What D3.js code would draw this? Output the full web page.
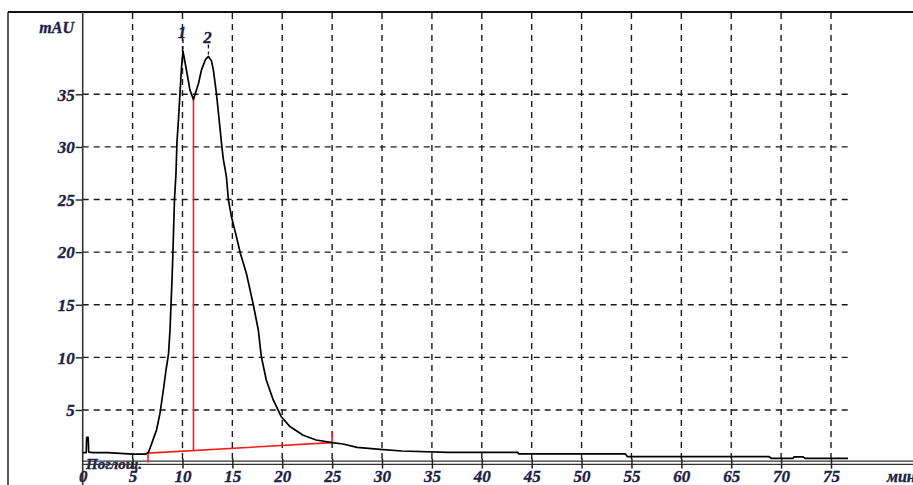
<!DOCTYPE html>
<html>
<head>
<meta charset="utf-8">
<script src="https://cdn.jsdelivr.net/npm/d3@7"></script>
<style>
  html, body { margin: 0; padding: 0; background: #fff; }
  svg { display: block; }
  .lbl { font-family: "Liberation Serif", "DejaVu Serif", serif; font-style: italic; font-weight: bold;
         fill: #1b2148; stroke: #1b2148; stroke-width: 0.35px; }
</style>
</head>
<body>
<svg id="chart" width="913" height="485"></svg>
<script>
// Chromatogram trace: retention time (min) and absorbance (mAU)
const timeMin = [0.0, 0.35, 0.4, 0.55, 0.6, 1.0, 2.5, 5.0, 6.3, 6.6, 6.8, 7.1, 7.4, 7.75, 8.1, 8.35, 8.6,
  8.75, 8.85, 8.95, 9.05, 9.2, 9.35, 9.45, 9.6, 9.75, 9.9, 10.05, 10.4, 10.75, 11.1, 11.6, 11.9, 12.3,
  12.6, 12.9, 13.1, 13.4, 13.75, 13.95, 14.1, 14.4, 14.6, 14.9, 15.4, 15.8, 16.4, 16.8, 17.1, 17.6, 17.9,
  18.4, 19.1, 19.9, 20.8, 22.1, 23.4, 25.0, 26.1, 27.5, 29.8, 32.0, 36.6, 43.6, 43.7, 54.4, 54.6, 68.8,
  69.0, 71.2, 71.3, 72.2, 72.4, 76.7];
const absorbance = [0.95, 0.95, 2.4, 2.4, 1.0, 0.95, 0.95, 0.8, 0.8, 1.0, 1.5, 2.3, 3.1, 4.7, 7.0, 8.8, 10.3,
  12.6, 15.0, 17.3, 20.2, 25.0, 27.5, 30.5, 32.6, 35.1, 37.5, 39.1, 37.3, 35.4, 34.5, 36.0, 37.3, 38.3,
  38.6, 38.2, 37.3, 35.1, 31.9, 30.0, 28.8, 27.2, 25.0, 23.4, 21.5, 19.9, 18.0, 16.3, 15.0, 12.6, 10.1,
  7.85, 5.95, 4.36, 3.4, 2.6, 2.15, 1.9, 1.77, 1.45, 1.26, 1.1, 0.98, 0.98, 0.82, 0.82, 0.56, 0.56,
  0.41, 0.41, 0.55, 0.55, 0.41, 0.41];

// Integration baseline and peak drop line
const baselineTime = [6.55, 25.0];
const baselineMAU = [0.9, 1.9];
const baselineEndTick = 2.85;
const dropTime = 11.1;
const dropMAU = 34.5;

// Peaks and their numbers
const peakTime = [10.05, 12.6];
const peakMAU = [39.1, 38.6];
const peakNames = ["1", "2"];

// Axis ticks
const xTicks = [0, 5, 10, 15, 20, 25, 30, 35, 40, 45, 50, 55, 60, 65, 70, 75];
const yTicks = [5, 10, 15, 20, 25, 30, 35];
const tMax = 76.7;

const svg = d3.select("#chart");
const x = d3.scaleLinear().domain([0, 75]).range([82.7, 831]);
const y = d3.scaleLinear().domain([0, 35]).range([462.6, 94.3]);
const topY = 12;

// outer frame
svg.append("line").attr("x1", 8).attr("x2", 913).attr("y1", topY).attr("y2", topY)
  .attr("stroke", "#111").attr("stroke-width", 2);
svg.append("line").attr("x1", 8).attr("x2", 8).attr("y1", topY).attr("y2", 485)
  .attr("stroke", "#222").attr("stroke-width", 1.5);

// dashed grid
const grid = svg.append("g").attr("stroke", "#1a1a1a").attr("stroke-width", 1.4)
  .attr("stroke-dasharray", "6,5");
grid.selectAll(".gv").data(xTicks.filter(d => d > 0)).join("line")
  .attr("x1", d => x(d)).attr("x2", d => x(d))
  .attr("y1", topY + 1).attr("y2", y(0));
grid.selectAll(".gh").data(yTicks).join("line")
  .attr("x1", x(0)).attr("x2", x(tMax))
  .attr("y1", d => y(d)).attr("y2", d => y(d));

// axis label under the curve start
svg.append("text").attr("class", "lbl").attr("x", 86).attr("y", 469)
  .attr("font-size", 15).text("Поглощ.");

// y axis
const yAxis = svg.append("g").attr("transform", `translate(${x(0)},0)`)
  .call(d3.axisLeft(y).tickValues(yTicks).tickSize(7).tickPadding(1).tickFormat(d3.format("d")));
yAxis.select(".domain").remove();
yAxis.selectAll(".tick line").attr("stroke", "#222").attr("stroke-width", 1.4);
yAxis.selectAll(".tick text").attr("class", "lbl").attr("font-size", 17).attr("dy", "0.34em");
svg.append("line").attr("x1", x(0)).attr("x2", x(0)).attr("y1", topY).attr("y2", 485)
  .attr("stroke", "#333").attr("stroke-width", 1.6);

// x axis (double rule)
svg.append("line").attr("x1", x(0)).attr("x2", 913).attr("y1", y(0) - 1.5).attr("y2", y(0) - 1.5)
  .attr("stroke", "#333").attr("stroke-width", 1.3);
svg.append("line").attr("x1", x(0)).attr("x2", 913).attr("y1", y(0) + 1.8).attr("y2", y(0) + 1.8)
  .attr("stroke", "#333").attr("stroke-width", 1.3);
const xAxis = svg.append("g").attr("transform", `translate(0,${y(0) - 4})`)
  .call(d3.axisBottom(x).tickValues(xTicks).tickSize(10).tickPadding(3).tickFormat(d3.format("d")));
xAxis.select(".domain").remove();
xAxis.selectAll(".tick line").attr("stroke", "#222").attr("stroke-width", 1.5);
xAxis.selectAll(".tick text").attr("class", "lbl").attr("font-size", 17).attr("dy", "0.62em");
xAxis.selectAll(".tick").filter(d => d === 0).select("line").remove();

svg.append("text").attr("class", "lbl").attr("x", 74).attr("y", 33)
  .attr("text-anchor", "end").attr("font-size", 16).text("mAU");
svg.append("text").attr("class", "lbl").attr("x", 887).attr("y", 482)
  .attr("font-size", 16).text("мин");

// integration marks
const red = svg.append("g").attr("stroke", "#ff1a1a").attr("stroke-width", 1.6).attr("fill", "none");
red.append("line").attr("x1", x(baselineTime[0])).attr("x2", x(baselineTime[0]))
  .attr("y1", y(0)).attr("y2", y(baselineMAU[0]));
red.append("line").attr("x1", x(baselineTime[0])).attr("x2", x(baselineTime[1]))
  .attr("y1", y(baselineMAU[0])).attr("y2", y(baselineMAU[1]));
red.append("line").attr("x1", x(baselineTime[1])).attr("x2", x(baselineTime[1]))
  .attr("y1", y(baselineMAU[1])).attr("y2", y(baselineEndTick));
const dropBase = baselineMAU[0] + (baselineMAU[1] - baselineMAU[0]) *
  (dropTime - baselineTime[0]) / (baselineTime[1] - baselineTime[0]);
red.append("line").attr("x1", x(dropTime)).attr("x2", x(dropTime))
  .attr("y1", y(dropBase)).attr("y2", y(dropMAU));

// trace
const pts = timeMin.map((t, i) => [t, absorbance[i]]);
svg.append("path").datum(pts)
  .attr("fill", "none").attr("stroke", "#000").attr("stroke-width", 1.7)
  .attr("stroke-linejoin", "round")
  .attr("d", d3.line().x(d => x(d[0])).y(d => y(d[1])));

// peak markers
const pk = svg.append("g");
peakTime.forEach((t, i) => {
  pk.append("line").attr("x1", x(t)).attr("x2", x(t))
    .attr("y1", y(peakMAU[i]) - 12).attr("y2", y(peakMAU[i]) - 2)
    .attr("stroke", "#111").attr("stroke-width", 1.3).attr("stroke-dasharray", "4,3");
  pk.append("text").attr("class", "lbl").attr("x", x(t) - 1).attr("y", y(peakMAU[i]) - 13)
    .attr("text-anchor", "middle").attr("font-size", 17).text(peakNames[i]);
});
</script>
</body>
</html>
